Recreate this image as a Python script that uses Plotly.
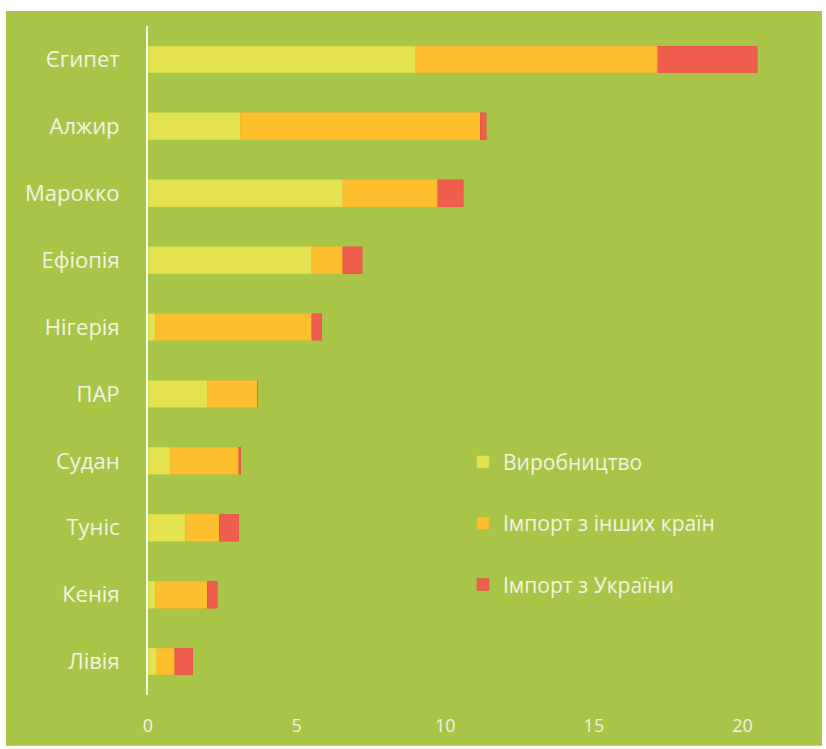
import plotly.graph_objects as go

countries = ["Єгипет", "Алжир", "Марокко", "Ефіопія", "Нігерія", "ПАР", "Судан", "Туніс", "Кенія", "Лівія"]
production = [9.0, 3.1, 6.55, 5.5, 0.25, 2.0, 0.75, 1.25, 0.25, 0.3]
import_other = [8.15, 8.07, 3.2, 1.05, 5.25, 1.7, 2.3, 1.15, 1.75, 0.6]
import_ukraine = [3.35, 0.2, 0.85, 0.65, 0.35, 0.0, 0.07, 0.65, 0.33, 0.6]
series_names = ["Виробництво", "Імпорт з інших країн", "Імпорт з України"]
x_ticks = [0, 5, 10, 15, 20]

colors = ["#e2e34f", "#fdbf2d", "#ef5e4c"]
edge = ["#d6d84a", "#eeb52c", "#e0584a"]
bg = "#a8c547"
txt = "#f3f4e2"
font_family = "Open Sans, Noto Sans, sans-serif"

W, H = 826, 749
L, R, T, B = 148, 24, 26, 52
pw, ph = W - L - R, H - T - B

fig = go.Figure()
for i, (name, vals) in enumerate(zip(series_names, [production, import_other, import_ukraine])):
    fig.add_trace(go.Bar(
        y=countries, x=vals, name=name, orientation="h",
        marker=dict(color=colors[i], line=dict(color=edge[i], width=0.6)),
        legendgroup=str(i),
    ))

# green panel background (white margin around)
fig.add_shape(type="rect", xref="paper", yref="paper", layer="below",
              x0=(6 - L) / pw, x1=(822 - L) / pw,
              y0=(H - B - 748) / ph, y1=(H - B - 11) / ph,
              fillcolor=bg, line=dict(width=0))

fig.update_layout(
    width=W, height=H,
    margin=dict(l=L, r=R, t=T, b=B),
    paper_bgcolor="white", plot_bgcolor="rgba(0,0,0,0)",
    barmode="stack", bargap=0.6,
    font=dict(family=font_family, color=txt),
    showlegend=True,
    legend=dict(
        x=(463 - L) / pw, y=(H - B - 443) / ph, xanchor="left", yanchor="top",
        traceorder="grouped", tracegroupgap=31,
        font=dict(size=21, color=txt, family=font_family),
        bgcolor="rgba(0,0,0,0)", itemwidth=30,
    ),
    xaxis=dict(
        range=[0, 22], tickvals=x_ticks, showgrid=False, zeroline=False,
        showline=False, ticks="", tickfont=dict(size=18, color=txt),
        ticklabelstandoff=18,
    ),
    yaxis=dict(
        autorange="reversed", showgrid=False, zeroline=False,
        showline=True, linecolor="#f4f6e6", linewidth=2,
        ticks="", tickfont=dict(size=22, color=txt), ticklabelstandoff=22,
    ),
)

fig.write_html("out.html")
